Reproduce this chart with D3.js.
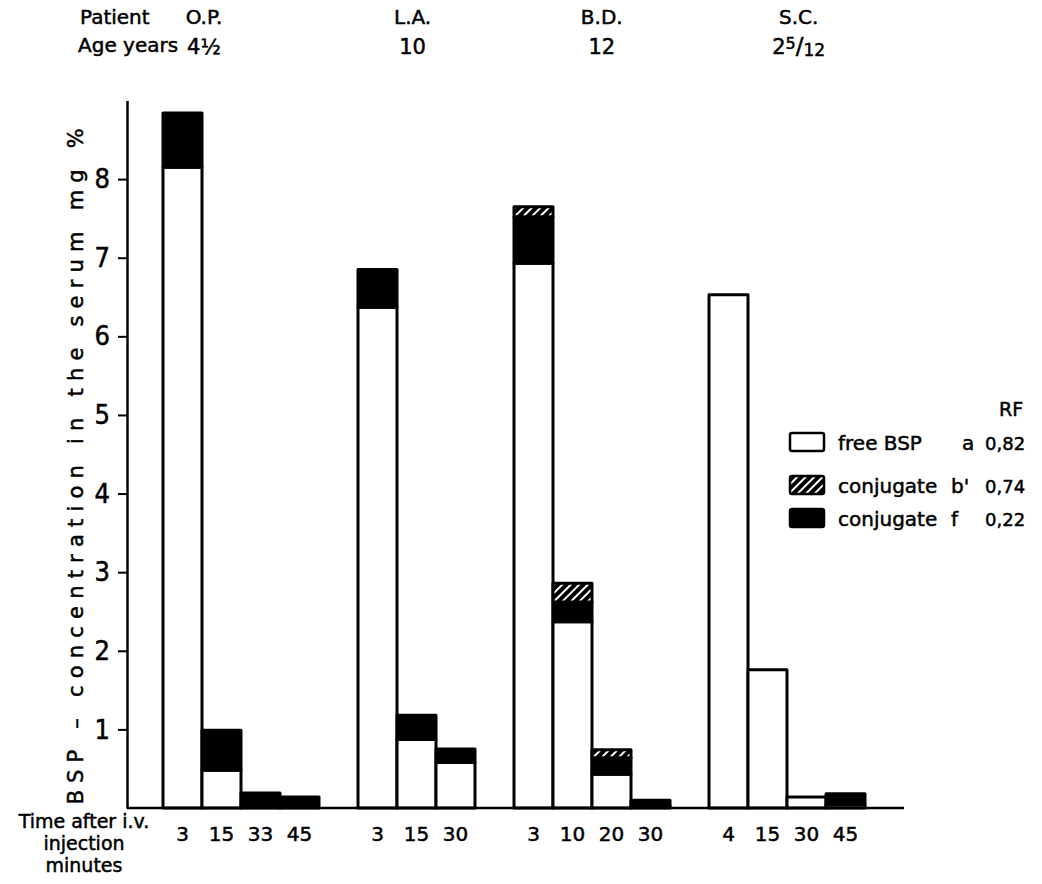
<!DOCTYPE html>
<html>
<head>
<meta charset="utf-8">
<script src="https://cdn.jsdelivr.net/npm/d3@7"></script>
<style>
  html, body { margin: 0; padding: 0; background: #fff; }
  svg text { font-family: "DejaVu Sans", sans-serif; fill: #000; stroke: #000; stroke-width: 0.5px; }
</style>
</head>
<body>
<svg id="chart" width="1042" height="884"></svg>
<script>
// ---- data ----
const patients = ["O.P.", "L.A.", "B.D.", "S.C."];
const ages = ["4½", "10", "12", "2 5/12"];
const times = [["3", "15", "33", "45"], ["3", "15", "30"], ["3", "10", "20", "30"], ["4", "15", "30", "45"]];
const freeBSP = [[8.15, 0.48, 0, 0], [6.37, 0.87, 0.58], [6.93, 2.37, 0.43, 0.03], [6.53, 1.76, 0.14, 0.04]];
const conjugateF = [[0.69, 0.51, 0.19, 0.14], [0.48, 0.31, 0.17], [0.59, 0.25, 0.21, 0.07], [0, 0, 0, 0.14]];
const conjugateB = [[0, 0, 0, 0], [0, 0, 0], [0.13, 0.24, 0.10, 0], [0, 0, 0, 0]];
const yTicks = [1, 2, 3, 4, 5, 6, 7, 8];
const legendLabels = ["free BSP", "conjugate", "conjugate"];
const legendLetters = ["a", "b'", "f"];
const legendRF = ["0,82", "0,74", "0,22"];

// ---- layout ----
const svg = d3.select("#chart");
const defs = svg.append("defs");
const pat = defs.append("pattern").attr("id", "hatch").attr("patternUnits", "userSpaceOnUse")
  .attr("width", 6).attr("height", 6).attr("patternTransform", "rotate(45)");
pat.append("rect").attr("width", 6).attr("height", 6).attr("fill", "#000");
pat.append("rect").attr("x", 0).attr("y", 0).attr("width", 2).attr("height", 6).attr("fill", "#fff");

// slots: gap, bars of each patient separated by gaps
const slots = ["gap0"];
const bars = [];
patients.forEach((p, pi) => {
  times[pi].forEach((t, ti) => {
    const key = p + "-" + ti;
    slots.push(key);
    bars.push({ key, patient: p, pi, time: t, free: freeBSP[pi][ti], f: conjugateF[pi][ti], b: conjugateB[pi][ti] });
  });
  slots.push("gap" + (pi + 1));
});

const x = d3.scaleBand().domain(slots).range([124, 904]).padding(0);
const y = d3.scaleLinear().domain([0, 9]).range([808, 100.5]);
const axisX = 127;

// bars
const segs = [];
bars.forEach(d => {
  segs.push({ d, y0: 0, y1: d.free, fill: "#fff" });
  if (d.f > 0) segs.push({ d, y0: d.free, y1: d.free + d.f, fill: "#000" });
  if (d.b > 0) segs.push({ d, y0: d.free + d.f, y1: d.free + d.f + d.b, fill: "url(#hatch)" });
});
svg.append("g").selectAll("rect").data(segs.filter(s => s.y1 > s.y0)).join("rect")
  .attr("x", s => x(s.d.key))
  .attr("width", x.bandwidth())
  .attr("y", s => y(s.y1))
  .attr("height", s => y(s.y0) - y(s.y1))
  .attr("fill", s => s.fill)
  .attr("stroke", "#000").attr("stroke-width", 3).attr("stroke-linejoin", "round");

// baseline
svg.append("line").attr("x1", axisX).attr("x2", x.range()[1]).attr("y1", y(0)).attr("y2", y(0))
  .attr("stroke", "#000").attr("stroke-width", 2.5);

// y axis
const yAxis = svg.append("g").attr("transform", `translate(${axisX},0)`)
  .call(d3.axisLeft(y).tickValues(yTicks).tickSize(9).tickSizeOuter(0).tickPadding(8).tickFormat(d3.format("d")));
yAxis.select(".domain").attr("stroke", "#000").attr("stroke-width", 2.5);
yAxis.selectAll(".tick line").attr("stroke", "#000").attr("stroke-width", 2);
yAxis.selectAll(".tick text").style("font-size", "27px").attr("fill", "#000")
  .style("font-family", '"DejaVu Sans Condensed", "DejaVu Sans", sans-serif');

// y label
svg.append("text")
  .attr("transform", `translate(83,${(y(0) + y(9)) / 2 + 12}) rotate(-90)`)
  .attr("text-anchor", "middle")
  .attr("textLength", 676).attr("lengthAdjust", "spacing")
  .style("font-size", "21px")
  .text("BSP – concentration in the serum mg %");

// x tick labels
svg.append("g").selectAll("text").data(bars).join("text")
  .attr("x", d => x(d.key) + x.bandwidth() / 2)
  .attr("y", 841)
  .attr("text-anchor", "middle")
  .style("font-size", "20px")
  .text(d => d.time);

// bottom-left caption
[["Time after i.v.", 828], ["injection", 850], ["minutes", 872]].forEach(([t, yy]) => {
  svg.append("text").attr("x", 84).attr("y", yy).attr("text-anchor", "middle").style("font-size", "19px").text(t);
});

// header
svg.append("text").attr("x", 80).attr("y", 24).style("font-size", "20px").text("Patient");
svg.append("text").attr("x", 78).attr("y", 52).style("font-size", "20px").text("Age years");
const labelPos = [1.05, 1.4, 2.25, 2.3]; // slot offset of header labels from first bar
patients.forEach((p, pi) => {
  const cx = x(p + "-0") + labelPos[pi] * x.bandwidth();
  svg.append("text").attr("x", cx).attr("y", 24).attr("text-anchor", "middle").style("font-size", "20px").text(p);
  const a = ages[pi];
  const t = svg.append("text").attr("x", cx).attr("y", 54).attr("text-anchor", "middle").style("font-size", "21px");
  if (a.includes(" ")) {
    const [whole, frac] = a.split(" ");
    const [num, den] = frac.split("/");
    t.append("tspan").text(whole);
    t.append("tspan").attr("dy", -5).style("font-size", "16px").text(num);
    t.append("tspan").attr("dy", 5).style("font-size", "23px").text("/");
    t.append("tspan").attr("dy", 2).style("font-size", "17px").text(den);
  } else {
    t.text(a);
  }
});

// legend
const lg = svg.append("g");
lg.append("text").attr("x", 999).attr("y", 416).style("font-size", "19px").text("RF");
const legendFills = ["#fff", "url(#hatch)", "#000"];
const rowY = [442, 485, 518];
legendLabels.forEach((lab, i) => {
  lg.append("rect").attr("x", 790).attr("y", rowY[i] - 9).attr("width", 34).attr("height", 18)
    .attr("fill", legendFills[i]).attr("stroke", "#000").attr("stroke-width", 2.5).attr("rx", 2);
  lg.append("text").attr("x", 838).attr("y", rowY[i] + 8).style("font-size", "20px").text(lab);
  lg.append("text").attr("x", i === 0 ? 962 : 951).attr("y", rowY[i] + 8).style("font-size", "20px").text(legendLetters[i]);
  lg.append("text").attr("x", 985).attr("y", rowY[i] + 8).style("font-size", "18px").text(legendRF[i]);
});
</script>
</body>
</html>
